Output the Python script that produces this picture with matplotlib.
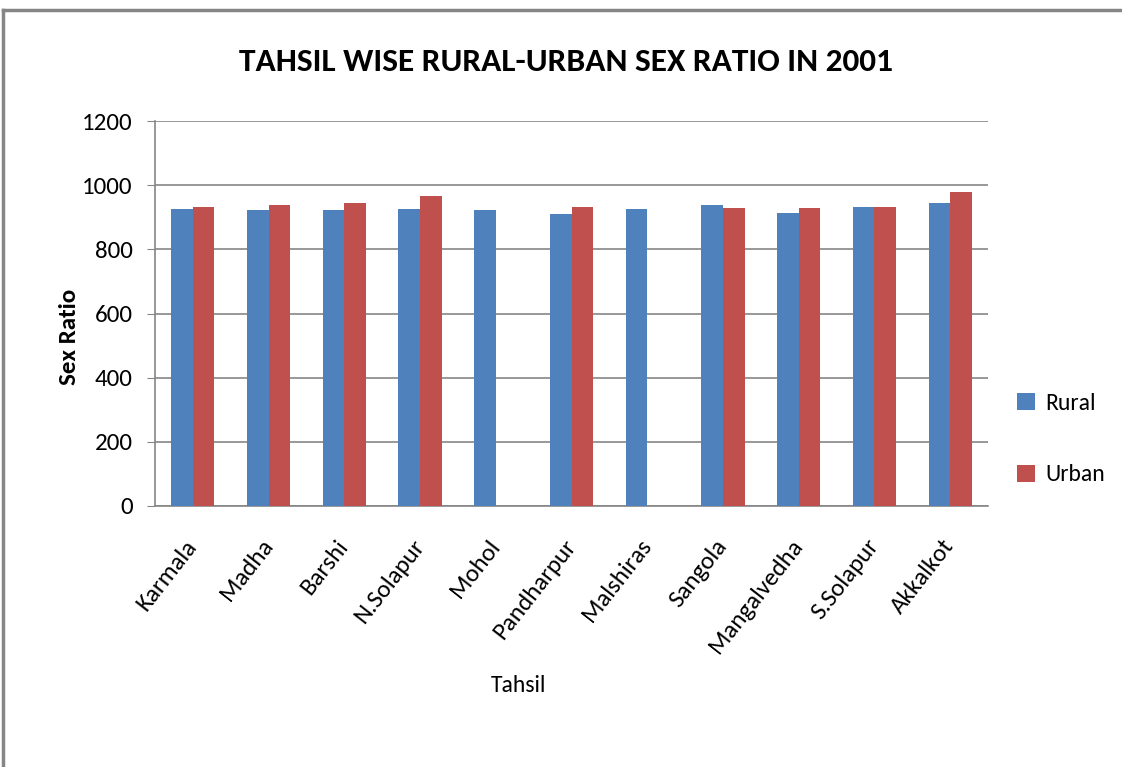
import matplotlib
matplotlib.use("Agg")
import matplotlib.pyplot as plt
import numpy as np
from matplotlib.lines import Line2D
import logging
logging.getLogger("matplotlib.font_manager").setLevel(logging.ERROR)

categories = ["Karmala", "Madha", "Barshi", "N.Solapur", "Mohol", "Pandharpur",
              "Malshiras", "Sangola", "Mangalvedha", "S.Solapur", "Akkalkot"]
rural = [926, 923, 923, 926, 923, 910, 926, 939, 914, 932, 945]
urban = [932, 938, 945, 967, np.nan, 932, np.nan, 929, 929, 932, 979]
yticks = [0, 200, 400, 600, 800, 1000, 1200]

FONT = ["Carlito", "Lato", "DejaVu Sans"]
plt.rcParams["font.family"] = FONT

fig = plt.figure(figsize=(11.22, 7.67), dpi=100)
W, H = 1122, 767
ax = fig.add_axes([155 / W, 1 - 506 / H, (988 - 155) / W, (506 - 121) / H])

x = np.arange(len(categories))
bw = 0.285
ax.bar(x - bw / 2, rural, width=bw, color="#4F81BD", label="Rural", zorder=3)
ax.bar(x + bw / 2, urban, width=bw, color="#C0504D", label="Urban", zorder=3)

ax.set_xlim(-0.5, len(categories) - 0.5)
ax.set_ylim(0, 1200)
ax.set_yticks(yticks)
ax.set_yticklabels([str(t) for t in yticks], fontsize=18)
ax.yaxis.grid(True, color="#868686", linewidth=1.2, zorder=0)
ax.tick_params(axis="y", length=6, color="#868686", pad=10)
ax.tick_params(axis="x", length=0, pad=26)
ax.set_xticks(x)
ax.set_xticklabels(categories, rotation=52, ha="right", va="center",
                   rotation_mode="anchor", fontsize=18)
for s in ["top", "right"]:
    ax.spines[s].set_visible(False)
for s in ["left", "bottom"]:
    ax.spines[s].set_color("#868686")
    ax.spines[s].set_linewidth(1.2)

fig.text(566 / W, 1 - 62 / H, "TAHSIL WISE RURAL-URBAN SEX RATIO IN 2001",
         ha="center", va="center", fontsize=24, fontweight="bold")
fig.text(70 / W, 1 - 337 / H, "Sex Ratio", rotation=90, ha="center", va="center",
         fontsize=18, fontweight="bold")
fig.text(518 / W, 1 - 686 / H, "Tahsil", ha="center", va="center", fontsize=17)

leg = ax.legend(loc="center left", bbox_to_anchor=(996 / W, 1 - 439 / H),
                bbox_transform=fig.transFigure, frameon=False, fontsize=17,
                handlelength=0.75, handleheight=0.75, handletextpad=0.45,
                labelspacing=2.15)

# outer chart border (left and top edges visible)
fig.add_artist(Line2D([3 / W, 3 / W], [0, 1 - 10 / H], transform=fig.transFigure,
                      color="#868686", linewidth=2.5))
fig.add_artist(Line2D([3 / W, 1], [1 - 10 / H, 1 - 10 / H], transform=fig.transFigure,
                      color="#868686", linewidth=2.5))

fig.savefig("out.png", dpi=100)
